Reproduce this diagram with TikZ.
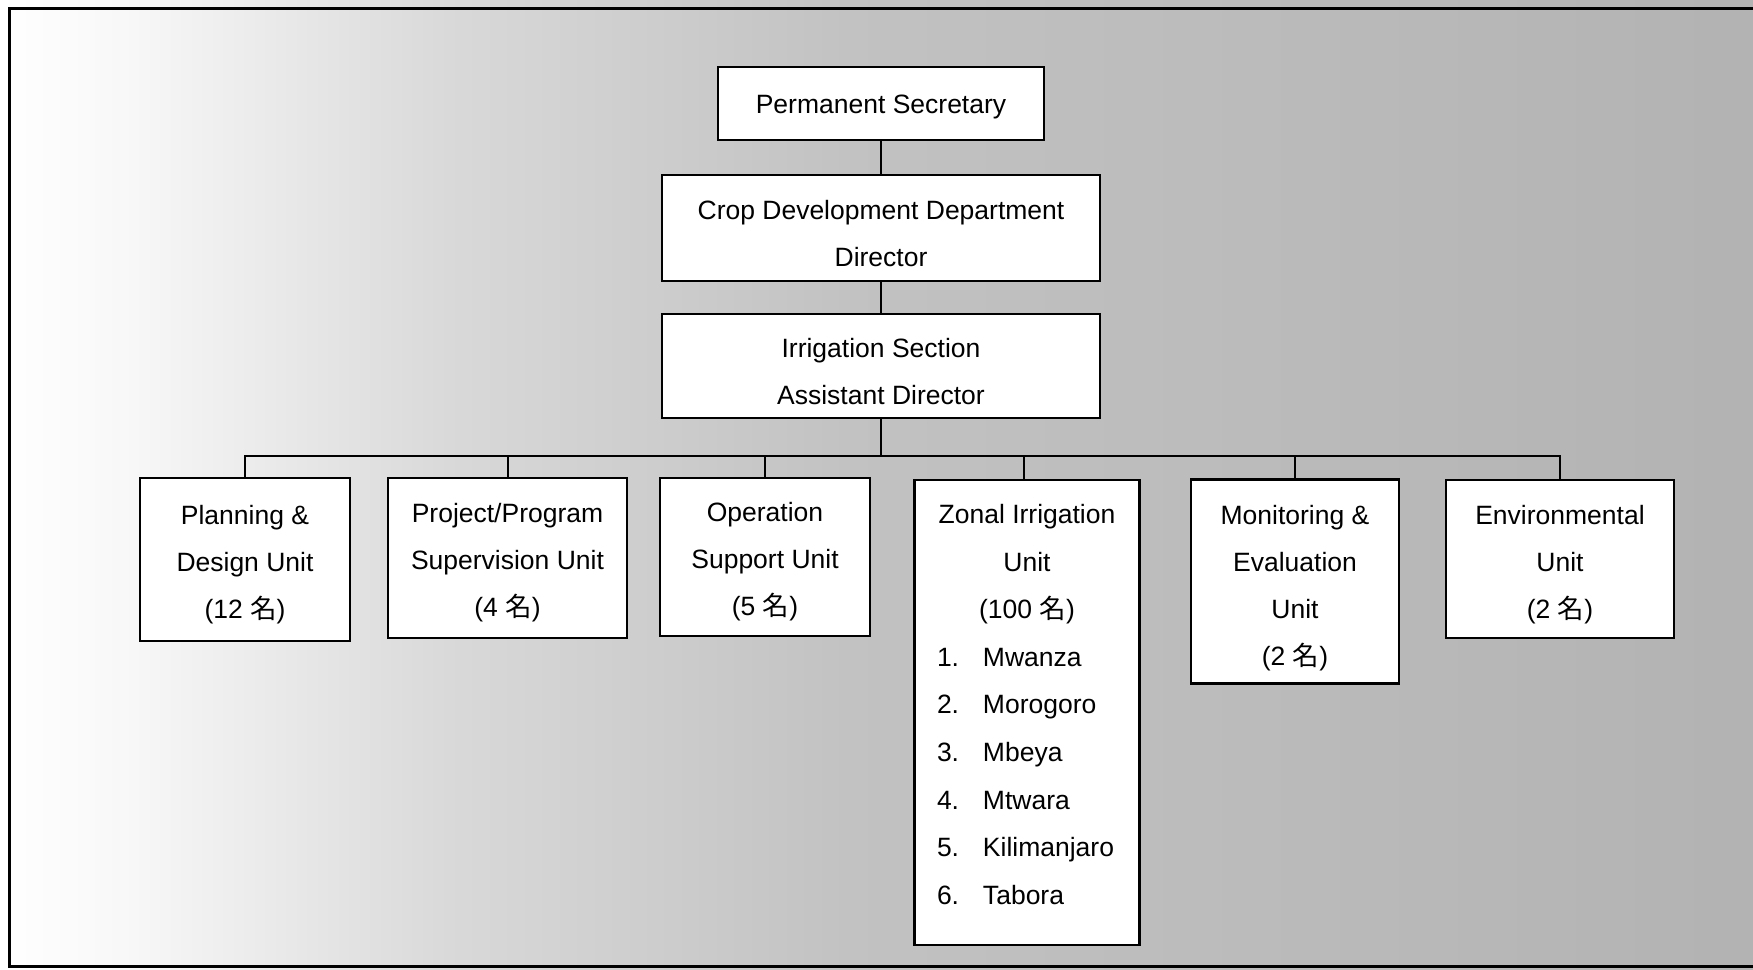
\documentclass[tikz,border=0pt]{standalone}
\usepackage{fontspec}
\setmainfont{Liberation Sans}
\newfontfamily\jpfont{Noto Sans CJK JP}
\newcommand{\mei}{{\jpfont 名}}
\newcommand{\zitem}[2]{\makebox[180pt][l]{\makebox[46pt][l]{#1}#2}}
% invisible strut on the first line that lowers a centred text block
\newcommand{\dn}[1]{\rule{0pt}{#1}}

\begin{document}
\begin{tikzpicture}[x=1pt, y=-1pt,
  unitbox/.style={draw=black, line width=2.2pt, fill=white, inner sep=0pt,
    align=center, font=\fontsize{26.5}{47}\selectfont},
  link/.style={draw=black, line width=2pt},
  frameline/.style={draw=black, line width=3pt}]

\useasboundingbox (0,0) rectangle (1753,969);

% halftone-like grey background, darker towards the right
\shade[left color=white, right color=white!97!black] (0,0) rectangle (131,969);
\shade[left color=white!97!black, right color=white!85!black] (130,0) rectangle (451,969);
\shade[left color=white!85!black, right color=white!76!black] (450,0) rectangle (851,969);
\shade[left color=white!76!black, right color=white!70!black] (850,0) rectangle (1753,969);

% outer frame (right side runs off the sheet)
\draw[frameline] (1760,8) -- (9,8) -- (9,966) -- (1760,966);

% management chain
\node[unitbox, minimum width=326, minimum height=73] (ps) at (881,103.5)
  {\dn{26pt}Permanent Secretary};
\node[unitbox, minimum width=438, minimum height=106] (crop) at (881,228)
  {\dn{30.5pt}Crop Development Department\\Director};
\node[unitbox, minimum width=438, minimum height=104] (irr) at (881,366)
  {\dn{30.5pt}Irrigation Section\\Assistant Director};

% units
\node[unitbox, minimum width=210, minimum height=163] (plan) at (245,559.5)
  {\dn{28.5pt}Planning \&\\Design Unit\\(12 \mei)};
\node[unitbox, minimum width=239, minimum height=160] (proj) at (507.5,558)
  {\dn{28.5pt}Project/Program\\Supervision Unit\\(4 \mei)};
\node[unitbox, minimum width=210, minimum height=158] (oper) at (765,557)
  {\dn{28.5pt}Operation\\Support Unit\\(5 \mei)};
\node[unitbox, minimum width=225, minimum height=465, anchor=north] (zonal) at (1027,479) {};
\node[inner sep=0pt, align=center, anchor=north,
  font=\fontsize{26.5}{47.6}\selectfont] (zonaltxt) at ([yshift=-25pt]zonal.north)
  {Zonal Irrigation\\Unit\\(100 \mei)\\
   \zitem{1.}{Mwanza}\\\zitem{2.}{Morogoro}\\\zitem{3.}{Mbeya}\\
   \zitem{4.}{Mtwara}\\\zitem{5.}{Kilimanjaro}\\\zitem{6.}{Tabora}};
\node[unitbox, minimum width=208, minimum height=204] (mon) at (1295,581.5)
  {\dn{32.7pt}Monitoring \&\\Evaluation\\Unit\\(2 \mei)};
\node[unitbox, minimum width=228, minimum height=158] (env) at (1560,559)
  {\dn{30.5pt}Environmental\\Unit\\(2 \mei)};

% connectors
\coordinate (bus) at (881,456);
\draw[link] (ps.south) -- (crop.north);
\draw[link] (crop.south) -- (irr.north);
\draw[link] (irr.south) -- (irr.south |- bus);
\draw[link] (plan.north) |- (env.north |- bus) -- (env.north);
\draw[link] (proj.north) -- (proj.north |- bus);
\draw[link] (oper.north) -- (oper.north |- bus);
\draw[link] ([xshift=-3pt]zonal.north) -- ([xshift=-3pt]zonal.north |- bus);
\draw[link] (mon.north) -- (mon.north |- bus);
\end{tikzpicture}
\end{document}
